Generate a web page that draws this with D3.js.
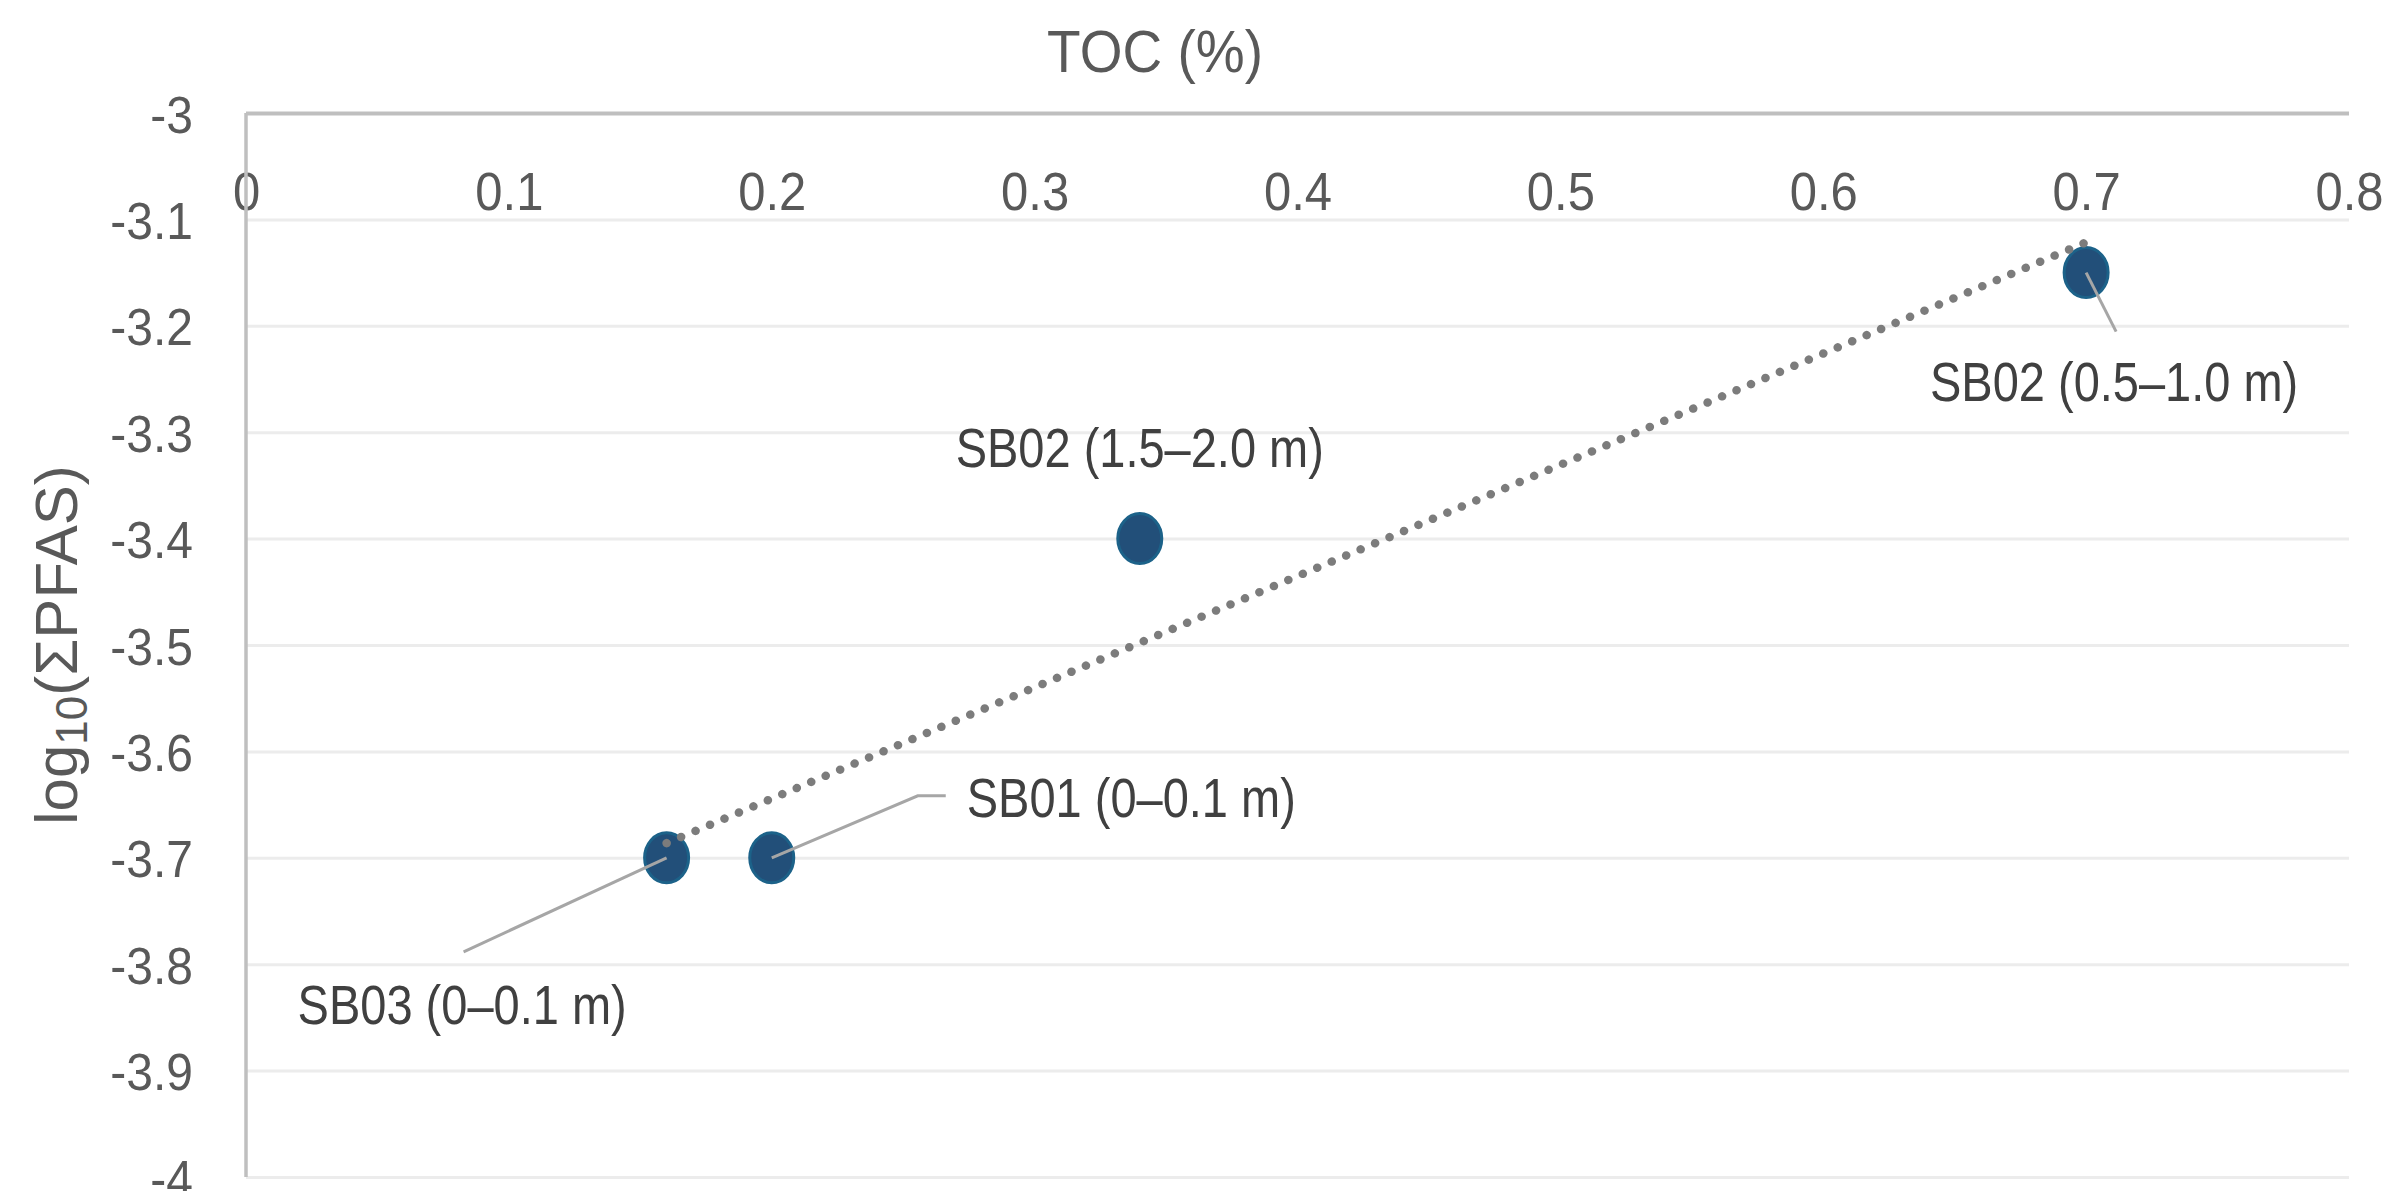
<!DOCTYPE html>
<html>
<head>
<meta charset="utf-8">
<script src="https://cdn.jsdelivr.net/npm/d3@7"></script>
<style>
  body { margin: 0; background: #fff; }
  svg { display: block; }
</style>
</head>
<body>
<div id="chart"></div>
<script>
const xTicks = [0, 0.1, 0.2, 0.3, 0.4, 0.5, 0.6, 0.7, 0.8];
const yTicks = [-3, -3.1, -3.2, -3.3, -3.4, -3.5, -3.6, -3.7, -3.8, -3.9, -4];

const samples = ["SB03 (0–0.1 m)", "SB01 (0–0.1 m)", "SB02 (1.5–2.0 m)", "SB02 (0.5–1.0 m)"];
const toc = [0.16, 0.2, 0.34, 0.7];
const logPfas = [-3.7, -3.7, -3.4, -3.15];

const width = 2392;
const height = 1191;
const padding = { top: 113, bottom: 14, left: 246, right: 43 };
const chartWidth = width - padding.left - padding.right;
const chartHeight = height - padding.top - padding.bottom;

// where each data label sits, in px from its point
const labelLayout = [
  { text: [-369, 166], anchor: "start", leader: [[-203, 94]] },
  { text: [195, -41], anchor: "start", leader: [[146, -62], [174, -62]] },
  { text: [0, -72], anchor: "middle", leader: [] },
  { text: [28, 128], anchor: "middle", leader: [[30, 59]] },
];

const font = "'Liberation Sans', Arial, sans-serif";

const points = samples.map((name, i) => ({ name, x: toc[i], y: logPfas[i], layout: labelLayout[i] }));

const xScale = d3.scaleLinear([0, 0.8], [0, chartWidth]);
const yScale = d3.scaleLinear([-4, -3], [chartHeight, 0]);

// least squares trendline
const mx = d3.mean(points, (d) => d.x);
const my = d3.mean(points, (d) => d.y);
const slope =
  d3.sum(points, (d) => (d.x - mx) * (d.y - my)) / d3.sum(points, (d) => (d.x - mx) ** 2);
const intercept = my - slope * mx;
const [minX, maxX] = d3.extent(points, (d) => d.x);
const trend = [minX, maxX].map((x) => [x, intercept + slope * x]);

const svg = d3
  .select("#chart")
  .append("svg")
  .attr("width", width)
  .attr("height", height)
  .attr("viewBox", `0 0 ${width} ${height}`)
  .style("font-family", font);

const chart = svg.append("g").attr("transform", `translate(${padding.left}, ${padding.top})`);

// horizontal gridlines + y labels
chart
  .append("g")
  .call(
    d3.axisLeft(yScale).tickValues(yTicks).tickSize(-chartWidth).tickPadding(53).tickFormat((v) => String(v))
  )
  .call((g) => g.select(".domain").remove())
  .call((g) =>
    g
      .selectAll(".tick line")
      .attr("stroke", (d) => (d === -3 ? "#bfbfbf" : "#ececec"))
      .attr("stroke-width", (d) => (d === -3 ? 4 : 3))
  )
  .call((g) =>
    g
      .selectAll(".tick text")
      .attr("x", null)
      .attr("dy", null)
      .attr("transform", "translate(-53, 19) scale(1, 1.08)")
      .attr("text-anchor", "end")
      .attr("fill", "#595959")
      .style("font-size", "48px")
      .style("font-family", font)
  );

// x labels hang just under the top line
chart
  .append("g")
  .call(d3.axisBottom(xScale).tickValues(xTicks).tickSize(0).tickFormat((v) => String(v)))
  .call((g) => g.select(".domain").remove())
  .call((g) =>
    g
      .selectAll(".tick text")
      .attr("y", null)
      .attr("dy", null)
      .attr("transform", "translate(0, 97) scale(1, 1.08)")
      .attr("fill", "#595959")
      .style("font-size", "49px")
      .style("font-family", font)
  );

// left axis line
chart
  .append("line")
  .attr("x1", 0)
  .attr("x2", 0)
  .attr("y1", 0)
  .attr("y2", chartHeight)
  .attr("stroke", "#bfbfbf")
  .attr("stroke-width", 3.5);

// markers
chart
  .append("g")
  .selectAll("ellipse")
  .data(points)
  .join("ellipse")
  .attr("cx", (d) => xScale(d.x))
  .attr("cy", (d) => yScale(d.y))
  .attr("rx", 22)
  .attr("ry", 25)
  .attr("fill", "#224f79")
  .attr("stroke", "#1c6289")
  .attr("stroke-width", 3);

// trendline
chart
  .append("path")
  .datum(trend)
  .attr("d", d3.line().x((d) => xScale(d[0])).y((d) => yScale(d[1])))
  .attr("fill", "none")
  .attr("stroke", "#7c7c7c")
  .attr("stroke-width", 8.5)
  .attr("stroke-linecap", "round")
  .attr("stroke-dasharray", "0.1 15.6");

// leader lines
chart
  .append("g")
  .selectAll("path")
  .data(points.filter((d) => d.layout.leader.length))
  .join("path")
  .attr("d", (d) => {
    const px = xScale(d.x);
    const py = yScale(d.y);
    return d3.line()([[px, py], ...d.layout.leader.map(([dx, dy]) => [px + dx, py + dy])]);
  })
  .attr("fill", "none")
  .attr("stroke", "#a6a6a6")
  .attr("stroke-width", 3);

// data labels
chart
  .append("g")
  .selectAll("text")
  .data(points)
  .join("text")
  .attr(
    "transform",
    (d) => `translate(${xScale(d.x) + d.layout.text[0]}, ${yScale(d.y) + d.layout.text[1]}) scale(1, 1.18)`
  )
  .attr("text-anchor", (d) => d.layout.anchor)
  .attr("fill", "#404040")
  .style("font-size", "47px")
  .text((d) => d.name);

// axis titles
svg
  .append("text")
  .attr("transform", "translate(1155, 72) scale(1, 1.08)")
  .attr("text-anchor", "middle")
  .attr("fill", "#595959")
  .style("font-size", "55px")
  .text("TOC (%)");

const yTitle = svg
  .append("text")
  .attr("transform", `translate(77, ${padding.top + chartHeight / 2}) rotate(-90)`)
  .attr("text-anchor", "middle")
  .attr("fill", "#595959")
  .style("font-size", "60px");
yTitle.append("tspan").text("log");
yTitle.append("tspan").attr("dy", 10).style("font-size", "44px").text("10");
yTitle.append("tspan").attr("dy", -10).text("(ΣPFAS)");
</script>
</body>
</html>
